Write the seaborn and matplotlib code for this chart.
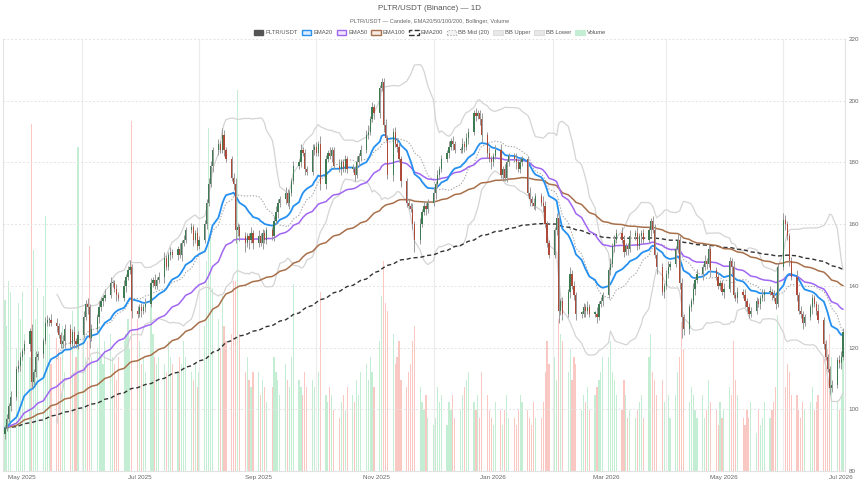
import pandas as pd
import seaborn as sns
import matplotlib.pyplot as plt
import matplotlib.dates as mdates
from matplotlib.patches import Patch

# trading days only (Mon-Fri), first bar Tue 2025-04-22
start_date = "2025-04-22"
first_open = 92.0

closes = [
    94, 97, 101, 104,
    113, 114, 117, 119, 121,
    125.5, 109, 112, 117, 118,
    122, 128, 129, 129, 128,
    127, 124, 121, 122, 126,
    121, 125, 122, 121, 124,
    130, 134, 133, 123, 126,
    130, 133, 135, 136, 137,
    141, 141, 139, 137, 136,
    140, 143, 145, 146, 132,
    131, 133, 132, 133, 134,
    141, 142, 140, 142, 143,
    149, 146, 150, 151, 150,
    152, 150, 154, 155, 158,
    159, 155, 157, 153, 155,
    160, 167, 173, 179, 184,
    186, 184, 189, 184, 181,
    175, 173, 158, 159, 156,
    154, 156, 155, 157, 154,
    156, 154, 157, 155, 158,
    156, 161, 164, 167, 168,
    170, 167, 170, 174, 179,
    180, 184, 183, 178, 177,
    184, 185, 183, 186, 173,
    181, 183, 182, 184, 179,
    178, 180, 178, 181, 178,
    178, 176, 180, 182, 184,
    189, 190, 194, 198, 196,
    204, 206, 192, 188, 176,
    190, 186, 185, 181, 174,
    167, 166, 165, 160, 155,
    160, 164, 166, 165, 167,
    170, 173, 176, 178, 181,
    183, 185, 187, 186, 184,
    184, 186, 185, 188, 190,
    196, 195, 196, 194, 189,
    183, 181, 180, 182, 184,
    176, 178, 175, 180, 182,
    181, 180, 178, 180, 181,
    170, 168, 167, 166, 169,
    167, 166, 160, 154, 150,
    158, 162, 132, 135, 131,
    138, 144, 140, 137, 131,
    131, 133, 132, 133, 131,
    131, 130, 134, 135, 137,
    145, 147, 153, 155, 157,
    155, 151, 153, 152, 156,
    157, 153, 156, 157, 155,
    158, 161, 158, 150, 146,
    138, 140, 144, 146, 147,
    152, 155, 141, 130, 126,
    133, 135, 139, 142, 144,
    146, 148, 147, 152, 145,
    143, 140, 141, 138, 139,
    148, 146, 137, 136, 138,
    137, 135, 133, 131, 132,
    135, 134, 136, 137, 138,
    138, 137, 136, 134, 146,
    161.5, 160, 156, 148, 143,
    137, 132, 131, 128, 130,
    133, 136, 134, 132, 129,
    121, 117, 113, 107, 108,
    116, 115, 117, 125,
]

upper_wick = [
    1.0, 1.5, 1.0, 2.0,
    1.0, 2.0, 1.5, 1.0, 1.5,
    1.0, 2.0, 1.0, 2.0, 1.0,
    1.0, 2.0, 1.5, 1.0, 2.0,
    1.5, 1.0, 1.0, 2.0, 1.5,
    1.5, 1.0, 2.0, 1.0, 1.5,
    2.0, 1.5, 2.0, 1.0, 1.5,
    1.0, 2.0, 1.5, 1.0, 2.0,
    2.0, 1.0, 1.0, 1.5, 1.0,
    2.0, 1.0, 1.5, 2.5, 1.0,
    1.5, 1.0, 1.5, 1.0, 2.0,
    1.5, 1.0, 2.0, 1.0, 1.5,
    2.0, 1.0, 1.0, 1.5, 1.0,
    1.0, 2.0, 1.0, 1.5, 1.0,
    1.5, 1.0, 1.0, 2.0, 1.0,
    1.5, 1.0, 2.0, 1.5, 1.0,
    1.5, 1.0, 2.0, 1.5, 1.0,
    1.0, 1.5, 2.0, 1.5, 1.0,
    1.5, 1.0, 1.0, 2.0, 1.0,
    2.0, 1.0, 1.5, 1.0, 1.0,
    1.0, 1.5, 2.0, 1.0, 1.0,
    2.0, 1.5, 1.0, 1.0, 1.5,
    1.0, 2.0, 1.0, 1.5, 1.0,
    2.0, 1.0, 1.5, 1.0, 2.5,
    1.5, 1.0, 2.0, 1.0, 1.0,
    2.0, 1.0, 1.0, 1.5, 1.0,
    1.5, 1.0, 2.0, 1.0, 1.5,
    1.5, 2.0, 1.0, 1.5, 1.0,
    1.0, 1.5, 1.5, 2.0, 1.0,
    1.0, 1.5, 2.0, 1.5, 1.0,
    1.0, 1.5, 1.0, 2.0, 1.0,
    2.0, 1.0, 1.5, 1.0, 1.0,
    2.0, 1.0, 1.5, 1.0, 1.5,
    1.0, 2.0, 1.0, 1.5, 1.0,
    1.0, 2.0, 1.0, 1.5, 1.0,
    1.0, 1.5, 1.0, 1.0, 2.0,
    1.0, 2.0, 1.0, 1.0, 1.5,
    2.0, 1.0, 1.5, 1.0, 1.0,
    1.0, 2.0, 1.0, 1.5, 1.0,
    1.0, 2.0, 1.0, 1.5, 1.0,
    1.0, 2.0, 1.5, 1.0, 1.0,
    1.0, 1.5, 2.0, 1.0, 1.5,
    1.0, 2.0, 1.0, 1.5, 1.0,
    1.0, 1.5, 1.0, 2.0, 1.0,
    1.0, 2.0, 1.0, 1.5, 1.0,
    1.0, 2.0, 1.0, 1.5, 1.5,
    2.0, 1.5, 1.0, 1.0, 2.0,
    1.0, 2.0, 1.0, 1.0, 1.5,
    1.0, 1.0, 1.5, 2.0, 1.0,
    1.5, 1.0, 1.0, 2.0, 1.0,
    1.0, 2.0, 1.0, 1.5, 1.0,
    1.0, 1.0, 2.0, 1.0, 1.5,
    1.0, 2.0, 1.0, 1.5, 1.0,
    1.0, 1.5, 1.0, 1.0, 2.0,
    1.5, 1.0, 2.0, 1.0, 1.5,
    1.0, 2.0, 1.0, 1.5, 1.0,
    1.5, 1.0, 1.0, 2.0, 1.0,
    2.0, 1.0, 1.5, 1.0, 1.5,
    2.0, 1.5, 1.0, 1.0, 1.5,
    2.0, 1.0, 1.5, 1.0, 1.0,
    1.0, 1.5, 1.0, 1.0, 2.0,
    1.0, 1.5, 1.0, 1.0, 1.5,
    1.0, 1.5, 2.0, 1.5,
]

lower_wick = [
    1.5, 1.0, 1.0, 1.5,
    1.0, 1.0, 1.5, 1.0, 1.0,
    2.0, 2.0, 1.0, 1.5, 1.0,
    1.5, 1.0, 1.0, 2.0, 1.0,
    2.0, 1.0, 1.0, 1.0, 2.0,
    1.0, 1.0, 2.0, 1.0, 1.5,
    1.0, 1.0, 2.0, 3.0, 1.0,
    1.0, 2.0, 1.0, 1.5, 1.0,
    1.0, 1.5, 1.0, 2.0, 1.0,
    1.0, 2.0, 1.0, 1.0, 2.5,
    1.5, 1.0, 2.0, 1.0, 1.5,
    1.0, 1.5, 1.0, 1.0, 1.0,
    2.0, 1.0, 1.0, 1.5, 1.0,
    1.5, 1.0, 2.0, 1.0, 1.0,
    1.0, 2.0, 1.0, 1.5, 1.0,
    1.0, 1.5, 1.0, 1.0, 2.0,
    1.5, 1.0, 1.0, 2.0, 1.0,
    1.0, 2.0, 4.0, 2.0, 1.5,
    3.0, 1.5, 3.0, 1.0, 2.0,
    1.5, 1.0, 2.0, 1.0, 1.5,
    1.0, 1.5, 1.0, 2.0, 1.5,
    1.5, 1.0, 2.0, 1.0, 1.0,
    1.0, 1.5, 1.0, 2.0, 1.0,
    1.0, 1.5, 1.0, 1.0, 2.0,
    1.5, 1.0, 1.0, 2.0, 1.0,
    1.0, 2.0, 1.0, 1.0, 1.5,
    1.0, 2.0, 1.0, 1.0, 1.5,
    1.0, 1.5, 1.0, 1.0, 2.0,
    1.5, 1.0, 2.0, 1.0, 1.5,
    2.0, 1.0, 1.5, 1.0, 2.0,
    1.5, 1.0, 1.0, 1.5, 4.0,
    1.5, 1.0, 1.0, 2.0, 1.5,
    1.0, 2.0, 1.0, 1.5, 1.0,
    1.0, 1.5, 1.0, 2.0, 1.0,
    1.0, 1.0, 1.5, 1.0, 2.0,
    1.0, 1.5, 1.0, 2.0, 2.5,
    1.5, 1.0, 2.0, 1.0, 1.0,
    1.0, 2.0, 1.0, 1.5, 1.0,
    1.0, 2.0, 1.0, 1.5, 1.0,
    1.0, 2.0, 1.0, 1.0, 1.5,
    1.0, 2.0, 1.0, 1.5, 1.0,
    1.0, 1.5, 4.0, 1.5, 2.0,
    1.0, 2.0, 1.0, 1.5, 2.0,
    1.5, 1.0, 2.0, 1.0, 1.0,
    1.0, 2.0, 1.0, 1.0, 1.5,
    1.0, 1.5, 1.0, 2.0, 1.0,
    1.0, 1.5, 1.0, 2.0, 1.0,
    1.0, 1.5, 1.0, 2.0, 1.5,
    1.0, 2.0, 1.0, 1.0, 2.0,
    1.0, 2.0, 1.0, 1.5, 1.0,
    1.0, 1.5, 2.0, 7.0, 2.0,
    1.5, 1.0, 1.0, 2.0, 1.0,
    2.0, 1.0, 1.5, 1.0, 2.0,
    1.0, 1.0, 1.5, 1.0, 2.0,
    1.0, 2.0, 1.0, 1.0, 1.5,
    1.0, 2.0, 1.0, 1.5, 1.0,
    1.0, 1.0, 1.5, 1.0, 2.0,
    1.0, 1.5, 1.0, 1.5, 1.0,
    1.0, 2.0, 1.0, 1.5, 1.0,
    2.0, 1.0, 1.5, 2.0, 1.0,
    1.0, 2.0, 1.0, 1.5, 1.0,
    1.5, 1.0, 1.0, 2.0, 1.5,
    1.0, 1.5, 2.0, 1.0,
]

# volume, arbitrary units (hidden axis)
volumes = [
    45, 38, 50, 47,
    32, 44, 40, 47, 36,
    30, 91, 58, 40, 48,
    46, 67, 40, 36, 28,
    35, 32, 30, 38, 26,
    34, 42, 26, 30, 85,
    36, 30, 34, 59, 30,
    32, 38, 30, 28, 34,
    36, 30, 28, 24, 30,
    34, 36, 40, 32, 92,
    40, 34, 28, 30, 26,
    44, 36, 30, 28, 30,
    28, 26, 34, 30, 28,
    26, 30, 28, 34, 30,
    26, 24, 28, 22, 26,
    38, 55, 90, 62, 48,
    40, 32, 46, 38, 34,
    36, 50, 50, 100, 36,
    26, 30, 24, 22, 26,
    26, 20, 24, 22, 18,
    22, 30, 26, 24, 20,
    28, 24, 22, 30, 49,
    24, 22, 20, 26, 22,
    24, 22, 20, 26, 47,
    20, 18, 22, 20, 16,
    14, 18, 20, 16, 22,
    20, 18, 24, 20, 26,
    28, 24, 30, 26, 22,
    34, 46, 55, 44, 42,
    36, 28, 30, 34, 24,
    22, 26, 28, 34, 38,
    22, 18, 16, 20, 14,
    12, 14, 22, 18, 20,
    12, 18, 16, 20, 14,
    16, 20, 22, 24, 26,
    18, 16, 20, 14, 26,
    20, 16, 14, 12, 18,
    16, 12, 16, 20, 14,
    14, 12, 16, 20, 18,
    16, 14, 12, 18, 14,
    14, 18, 26, 34, 28,
    30, 24, 40, 36, 34,
    26, 32, 24, 30, 28,
    16, 20, 18, 22, 16,
    20, 22, 24, 26, 30,
    30, 34, 26, 24, 20,
    16, 24, 20, 14, 16,
    14, 16, 18, 20, 14,
    30, 36, 26, 24, 20,
    24, 18, 16, 20, 14,
    20, 26, 30, 39, 32,
    18, 22, 20, 16, 14,
    20, 14, 16, 24, 18,
    16, 12, 18, 14, 16,
    22, 20, 34, 24, 20,
    14, 12, 16, 14, 18,
    10, 16, 12, 14, 18,
    14, 16, 18, 22, 41,
    24, 22, 28, 26, 20,
    20, 16, 14, 18, 16,
    18, 22, 16, 18, 20,
    30, 34, 32, 36, 30,
    18, 16, 20, 30,
]

y_ticks = [80, 100, 120, 140, 160, 180, 200, 220]

legend_items = ["PLTR/USDT", "EMA20", "EMA50", "EMA100", "EMA200",
                "BB Mid (20)", "BB Upper", "BB Lower", "Volume"]

# build frame + indicators
df = pd.DataFrame({
    "date": pd.bdate_range(start_date, periods=len(closes)),
    "close": closes,
    "volume": volumes,
})
df["open"] = [first_open] + closes[:-1]
body_top = df[["open", "close"]].max(axis=1)
body_bot = df[["open", "close"]].min(axis=1)
df["high"] = body_top + pd.Series(upper_wick)
df["low"] = body_bot - pd.Series(lower_wick)
for n in (20, 50, 100, 200):
    df[f"ema{n}"] = df["close"].ewm(span=n, adjust=False).mean()
df["bb_mid"] = df["close"].rolling(20).mean()
sd = df["close"].rolling(20).std(ddof=0)
df["bb_up"] = df["bb_mid"] + 2 * sd
df["bb_lo"] = df["bb_mid"] - 2 * sd
up = df["close"] >= df["open"]

sns.set_theme(style="white")
plt.rcParams["font.family"] = ["Liberation Sans", "DejaVu Sans"]

fig = plt.figure(figsize=(8.6, 4.84), dpi=100)
ax = fig.add_axes([3 / 860, 13 / 484, 842 / 860, 432 / 484])
axv = ax.twinx()

# volume underneath
axv.bar(df["date"], df["volume"], width=0.62,
        color=["#c4eed3" if u else "#fac8c2" for u in up], linewidth=0)
axv.set_ylim(0, 113.4)
axv.yaxis.set_visible(False)
for s in axv.spines.values():
    s.set_visible(False)
ax.set_zorder(axv.get_zorder() + 1)
ax.patch.set_visible(False)

# bollinger + emas
sns.lineplot(data=df, x="date", y="bb_up", ax=ax, color="#d4d4d4", linewidth=0.9)
sns.lineplot(data=df, x="date", y="bb_lo", ax=ax, color="#d4d4d4", linewidth=0.9)
sns.lineplot(data=df, x="date", y="bb_mid", ax=ax, color="#a8a8a8", linewidth=0.8,
             linestyle=(0, (1.2, 1.5)))
sns.lineplot(data=df, x="date", y="ema200", ax=ax, color="#333333", linewidth=1.0,
             linestyle=(0, (3, 2)))
sns.lineplot(data=df, x="date", y="ema100", ax=ax, color="#a8704a", linewidth=1.1)
sns.lineplot(data=df, x="date", y="ema50", ax=ax, color="#a066f2", linewidth=1.1)
sns.lineplot(data=df, x="date", y="ema20", ax=ax, color="#2590f0", linewidth=1.3)

# candles
ax.vlines(df["date"], df["low"], df["high"], color="#9a9a9a", linewidth=0.7, zorder=4)
ax.bar(df["date"], (body_top - body_bot).clip(lower=0.4), bottom=body_bot, width=0.65,
       color=["#3f7b52" if u else "#ad4a3a" for u in up], linewidth=0, zorder=5)

# axes
ax.set_xlim(pd.Timestamp("2025-04-21"), pd.Timestamp("2026-07-03"))
ax.set_ylim(80, 220)
ax.set_yticks(y_ticks)
ax.yaxis.tick_right()
ax.set_xlabel("")
ax.set_ylabel("")
ax.tick_params(axis="y", labelsize=4.5, labelcolor="#666666", length=0, pad=2.5)

ax.xaxis.set_major_locator(mdates.MonthLocator(bymonth=[2, 4, 6, 8, 10, 12]))
ax.xaxis.set_major_formatter(plt.NullFormatter())
ax.xaxis.set_minor_locator(mdates.MonthLocator(bymonth=[1, 3, 5, 7, 9, 11]))
ax.xaxis.set_minor_formatter(mdates.DateFormatter("%b %Y"))
ax.tick_params(axis="x", which="major", length=3, color="#dddddd")
ax.tick_params(axis="x", which="minor", length=0, labelsize=4.5, labelcolor="#666666", pad=3)

ax.grid(axis="x", which="major", color="#ececec", linewidth=0.8)
ax.grid(axis="y", color="#e3e3e3", linewidth=0.7, linestyle=(0, (2, 2)))
for name, s in ax.spines.items():
    s.set_color("#e2e2e2")
    s.set_linewidth(0.8)
ax.spines["top"].set_visible(False)

# titles + legend
fig.text(0.5, 1 - 8.5 / 484, "PLTR/USDT (Binance) — 1D", ha="center", va="center",
         fontsize=5.8, color="#555555")
fig.text(0.5, 1 - 21.5 / 484, "PLTR/USDT — Candele, EMA20/50/100/200, Bollinger, Volume",
         ha="center", va="center", fontsize=4.1, color="#666666")

handles = [
    Patch(facecolor="#555555", edgecolor="#555555"),
    Patch(facecolor="#dcecfd", edgecolor="#2590f0", linewidth=1.0),
    Patch(facecolor="#efe6fd", edgecolor="#a066f2", linewidth=1.0),
    Patch(facecolor="#f5ebe3", edgecolor="#a8704a", linewidth=1.0),
    Patch(facecolor="#ffffff", edgecolor="#333333", linewidth=1.0, linestyle="--"),
    Patch(facecolor="#f3f3f3", edgecolor="#aaaaaa", linewidth=0.8, linestyle=":"),
    Patch(facecolor="#e8e8e8", edgecolor="#dddddd", linewidth=0.8),
    Patch(facecolor="#e8e8e8", edgecolor="#dddddd", linewidth=0.8),
    Patch(facecolor="#c4eed3", edgecolor="#c4eed3", linewidth=0.8),
]
fig.legend(handles, legend_items, loc="center", bbox_to_anchor=(0.5, 1 - 32.5 / 484),
           ncol=9, frameon=False, fontsize=4.2, handlelength=1.6, handleheight=1.2,
           columnspacing=0.7, handletextpad=0.35, labelcolor="#555555")

fig.savefig("out.png", dpi=100)
